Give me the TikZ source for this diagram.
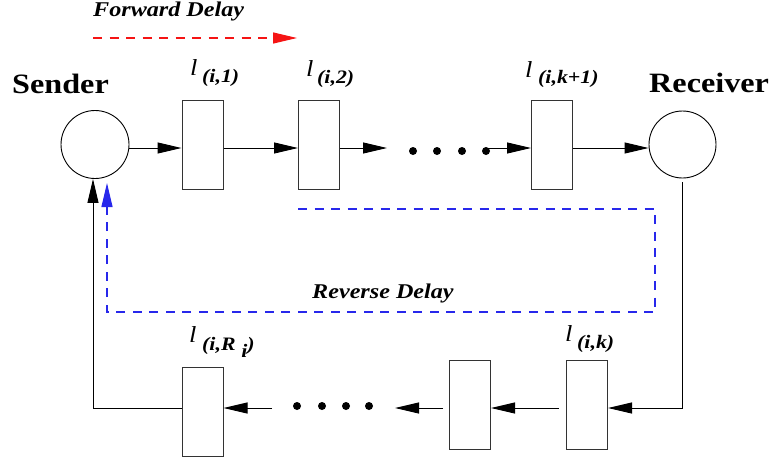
\documentclass[tikz,border=0pt]{standalone}
\usepackage{fontspec}
\usepackage{graphicx}
\setmainfont{Liberation Serif}
\usetikzlibrary{arrows.meta,calc}
\definecolor{revblue}{RGB}{40,40,235}
\definecolor{fwdred}{RGB}{245,20,20}
\newcommand\hs[1]{\scalebox{1.15}[1]{#1}}
\begin{document}
\begin{tikzpicture}[x=1pt,y=-1pt,
  box/.style={draw=black!80, line width=1pt, minimum width=41pt, minimum height=89pt, inner sep=0pt},
  host/.style={draw, circle, line width=0.9pt, minimum size=68pt, inner sep=0pt},
  arr/.style={line width=1pt, -{Triangle[length=24pt,width=11pt]}},
  dashline/.style={line width=1.2pt, dash pattern=on 9pt off 7.5pt},
  dot/.style={circle, fill, inner sep=0pt, minimum size=8pt},
  txt/.style={inner sep=0pt, anchor=base west},
  delayfont/.style={font=\fontsize{21}{21}\selectfont\bfseries\itshape},
  hostfont/.style={font=\fontsize{28}{28}\selectfont\bfseries},
  lfont/.style={font=\fontsize{23}{23}\selectfont\itshape},
  subfont/.style={font=\fontsize{19}{19}\selectfont\bfseries\itshape}]
\useasboundingbox (0,0) rectangle (773,461);

% hosts and links
\node[host] (s) at (95,144.5) {};
\node[host, minimum size=67pt] (r) at (682.5,144.5) {};
\node[box] (b1) at (202.5,144.5) {};
\node[box] (b2) at (319,144.5) {};
\node[box] (bk1) at (552,144.5) {};
\node[box] (bk) at (587,405) {};
\node[box] (bu) at (470,405) {};
\node[box] (bR) at (202.5,412) {};

% forward path
\coordinate (row) at (0,148);
\draw[arr] (s.east |- row) -- (b1.west |- row);
\draw[arr] (b1.east |- row) -- (b2.west |- row);
\coordinate (e2) at (387,148);
\draw[arr] (b2.east |- row) -- (e2);
\node[dot] (d1) at (413,151) {};
\node[dot] (d2) at (437,151) {};
\node[dot] (d3) at (462,151) {};
\node[dot] (d4) at (486,151) {};
\draw[arr] (d4.center |- row) -- (bk1.west |- row);
\draw[arr] (bk1.east |- row) -- (r.west |- row);

% return path
\coordinate (lowrow) at (0,408);
\coordinate (c1) at (682.5,408);
\draw[arr, shorten <=4pt] (r.south) -- (c1) -- (bk.east |- c1);
\draw[arr, shorten <=7pt] (bk.west |- lowrow) -- (bu.east |- lowrow);
\coordinate (eu) at (395,408);
\draw[arr, shorten <=6pt] (bu.west |- lowrow) -- (eu);
\node[dot] (f1) at (297,406) {};
\node[dot] (f2) at (322,406) {};
\node[dot] (f3) at (346,406) {};
\node[dot] (f4) at (369,406) {};
\coordinate (su) at (272,408);
\draw[arr] (su) -- (bR.east |- lowrow);
\coordinate (c2) at (93,408);
\draw[arr] (bR.west |- lowrow) -- (c2) -- (c2 |- s.south);

% delays
\coordinate (rf1) at (93,38);
\coordinate (rf2) at (297,38);
\draw[fwdred, dashline, -{Triangle[length=24pt,width=11pt]}] (rf1) -- (rf2);
\coordinate (bl1) at (298,209);
\coordinate (bl2) at (655,209);
\coordinate (bl3) at (655,312);
\coordinate (bl4) at (107,312);
\coordinate (bl5) at (107,183);
\draw[revblue, dashline, -{Triangle[length=24pt,width=11pt]}] (bl1) -- (bl2) -- (bl3) -- (bl4) -- (bl5);

% texts
\node[txt, delayfont] (fd) at (93,16) {\hs{Forward Delay}};
\node[txt, delayfont] (rd) at (312,298) {\hs{Reverse Delay}};
\node[txt, hostfont] (snd) at (12,93) {\hs{Sender}};
\node[txt, hostfont] (rcv) at (649,92) {\hs{Receiver}};

\node[txt, lfont] (l1) at (190,75) {\hs{l}};
\node[txt, subfont] (s1) at (202,82) {\hs{(i,1)}};
\node[txt, lfont] (l2) at (306,76) {\hs{l}};
\node[txt, subfont] (s2) at (317,83) {\hs{(i,2)}};
\node[txt, lfont] (l3) at (525,77) {\hs{l}};
\node[txt, subfont] (s3) at (538,83) {\hs{(i,k+1)}};
\node[txt, lfont] (l4) at (189,342) {\hs{l}};
\node[txt, subfont] (s4) at (202,350) {\hs{(i,R\hspace{5pt}\raisebox{-7pt}{i})}};
\node[txt, lfont] (l5) at (565,341) {\hs{l}};
\node[txt, subfont] (s5) at (577,348) {\hs{(i,k)}};
\end{tikzpicture}
\end{document}
